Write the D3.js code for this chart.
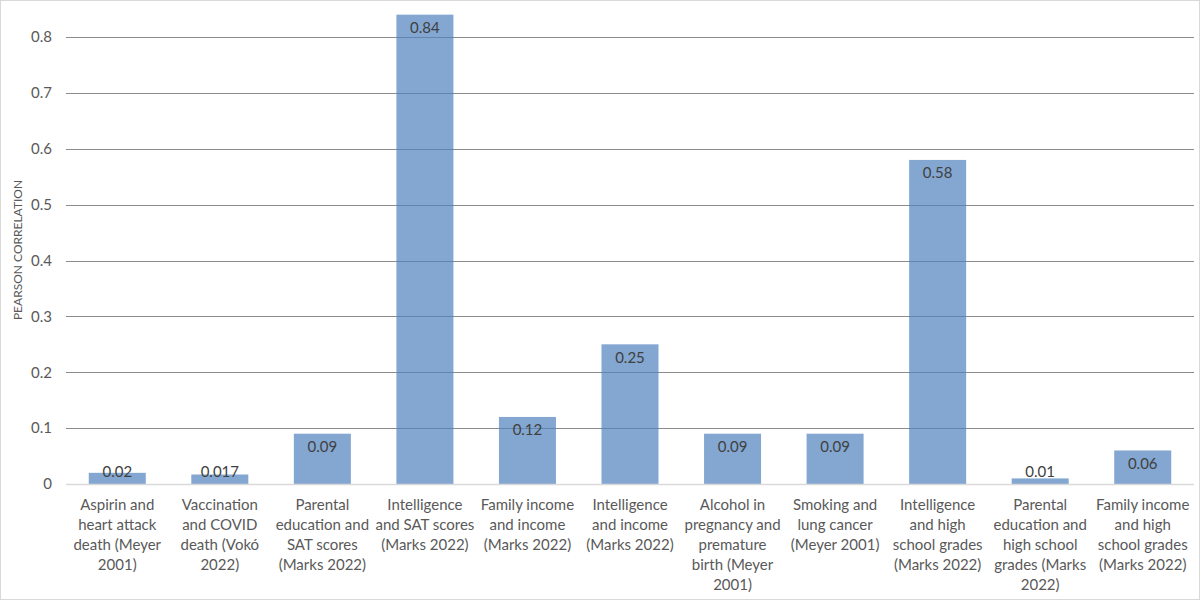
<!DOCTYPE html>
<html><head><meta charset="utf-8">
<script src="https://cdn.jsdelivr.net/npm/d3@7"></script>
<style>body{margin:0;background:#fff;} svg{display:block;font-family:Lato, "Open Sans", sans-serif;}</style>
</head><body><svg id="c" width="1200" height="600"></svg>
<script>
const categories = [
  ["Aspirin and","heart attack","death (Meyer","2001)"],
  ["Vaccination","and COVID","death (Vokó","2022)"],
  ["Parental","education and","SAT scores","(Marks 2022)"],
  ["Intelligence","and SAT scores","(Marks 2022)"],
  ["Family income","and income","(Marks 2022)"],
  ["Intelligence","and income","(Marks 2022)"],
  ["Alcohol in","pregnancy and","premature","birth (Meyer","2001)"],
  ["Smoking and","lung cancer","(Meyer 2001)"],
  ["Intelligence","and high","school grades","(Marks 2022)"],
  ["Parental","education and","high school","grades (Marks","2022)"],
  ["Family income","and high","school grades","(Marks 2022)"]
];
const values = [0.02, 0.017, 0.09, 0.84, 0.12, 0.25, 0.09, 0.09, 0.58, 0.01, 0.06];
const valueLabels = ["0.02","0.017","0.09","0.84","0.12","0.25","0.09","0.09","0.58","0.01","0.06"];
const yTicks = [0, 0.1, 0.2, 0.3, 0.4, 0.5, 0.6, 0.7, 0.8];
const yTitle = "PEARSON CORRELATION";

const svg = d3.select("#c");
svg.append("rect").attr("x",0.5).attr("y",0.5).attr("width",1199).attr("height",599)
  .attr("fill","#fff").attr("stroke","#d9d9d9");

const x = d3.scaleBand().domain(d3.range(values.length)).range([66, 1194]).paddingInner(0.444).paddingOuter(0.222);
const y = d3.scaleLinear().domain([0, 0.8]).range([484, 37]);

// gridlines
const grid = svg.append("g");
grid.selectAll("line").data(yTicks.filter(d=>d>0)).join("line")
  .attr("x1",66).attr("x2",1194)
  .attr("y1",d=>Math.round(y(d))+0.5).attr("y2",d=>Math.round(y(d))+0.5)
  .attr("stroke","#8c8c8c").attr("stroke-width",1);

// y axis labels
const yAxis = d3.axisLeft(y).tickValues(yTicks).tickSize(0).tickPadding(0)
  .tickFormat(d => d === 0 ? "0" : d3.format(".1f")(d));
const ya = svg.append("g").attr("transform","translate(52,0)").call(yAxis);
ya.select(".domain").remove();
ya.selectAll("text").attr("font-size",15).attr("fill","#595959").attr("font-family","Lato, sans-serif");

// bars (semi-transparent so gridlines show through)
svg.append("g").selectAll("rect").data(values).join("rect")
  .attr("x",(d,i)=>x(i)).attr("width",x.bandwidth())
  .attr("y",d=>y(d)).attr("height",d=>y(0)-y(d))
  .attr("fill","#4f81bd").attr("fill-opacity",0.7);

// baseline
svg.append("line").attr("x1",66).attr("x2",1194).attr("y1",484.5).attr("y2",484.5)
  .attr("stroke","#d9d9d9").attr("stroke-width",1.5);

// value labels
svg.append("g").selectAll("text").data(values).join("text")
  .attr("x",(d,i)=>x(i)+x.bandwidth()/2)
  .attr("y",d=>Math.min(y(d)+13, 472))
  .attr("dy","0.35em").attr("text-anchor","middle")
  .attr("font-size",15).attr("fill","#404040")
  .text((d,i)=>valueLabels[i]);

// x labels
const xl = svg.append("g").selectAll("text").data(categories).join("text")
  .attr("x",(d,i)=>x(i)+x.bandwidth()/2)
  .attr("text-anchor","middle").attr("font-size",15).attr("fill","#595959");
xl.each(function(lines,i){
  const t = d3.select(this);
  lines.forEach((ln,k)=>{
    t.append("tspan").attr("x",x(i)+x.bandwidth()/2).attr("y",505+k*20).attr("dy","0.35em").text(ln);
  });
});

// y title
svg.append("text").attr("transform","translate(18,250) rotate(-90)")
  .attr("text-anchor","middle").attr("dy","0.35em").attr("font-size",12).attr("fill","#595959")
  .text(yTitle);
</script></body></html>
